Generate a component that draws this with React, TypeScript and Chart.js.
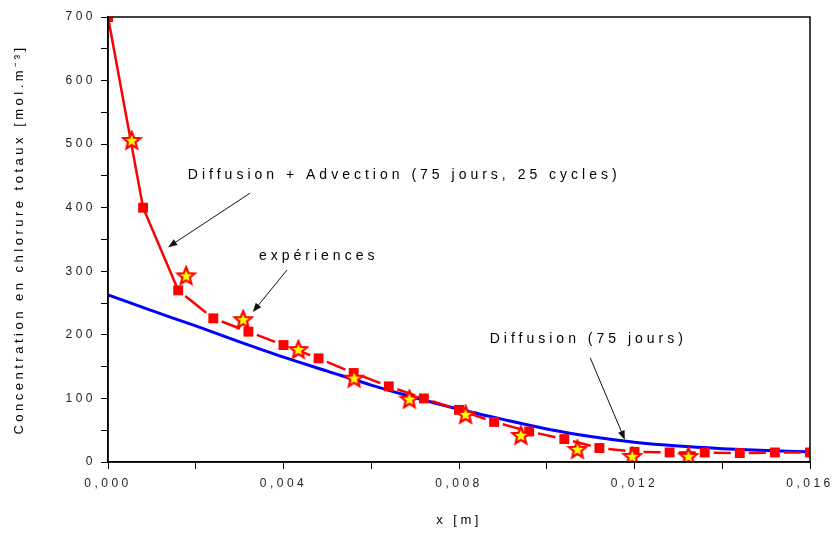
import React, { useEffect, useRef } from 'react';
import { Chart, registerables } from 'chart.js';

Chart.register(...registerables);

// ---- data ----
const modelX = [0, 0.0008, 0.0016, 0.0024, 0.0032, 0.004, 0.0048, 0.0056, 0.0064, 0.0072, 0.008, 0.0088, 0.0096, 0.0104, 0.0112, 0.012, 0.0128, 0.0136, 0.0144, 0.0152, 0.016];
const modelY = [700, 400, 270, 226, 205, 184, 163, 140, 119, 100, 82, 63, 48, 36, 22, 16, 15, 15, 14, 15, 15];

const expX = [0.00054, 0.00178, 0.00308, 0.00434, 0.00561, 0.00687, 0.00815, 0.00941, 0.0107, 0.01195, 0.01323];
const expY = [505, 292, 223, 176, 131, 98, 74, 41, 19, 8, 8];

const diffX = [0, 0.001, 0.002, 0.003, 0.004, 0.005, 0.006, 0.007, 0.008, 0.009, 0.01, 0.011, 0.012, 0.013, 0.014, 0.015, 0.016];
const diffY = [263, 238, 214, 189, 165, 143, 121, 101, 83, 67, 52, 40, 31, 25, 21, 18, 16];

const xTicksMajor = [0, 0.004, 0.008, 0.012, 0.016];
const yTicksMajor = [0, 100, 200, 300, 400, 500, 600, 700];

const xTitle = 'x [m]';
const yTitle = 'Concentration en chlorure totaux [mol.m⁻³]';

const labelTexts = ['Diffusion + Advection (75 jours, 25 cycles)', 'expériences', 'Diffusion (75 jours)'];
// annotation placement (data coordinates)
const labelAnchors = [
  { x: 0.00182, y: 451 },
  { x: 0.00344, y: 324 },
  { x: 0.0087, y: 194 },
];
const arrowFrom = [
  { x: 0.00324, y: 423 },
  { x: 0.00408, y: 302 },
  { x: 0.01099, y: 164 },
];
const arrowTo = [
  { x: 0.00137, y: 338 },
  { x: 0.0033, y: 236 },
  { x: 0.01178, y: 35 },
];

const FONT = '"Liberation Sans", Arial, sans-serif';

function makeStar(): HTMLCanvasElement {
  const c = document.createElement('canvas');
  const s = 22;
  c.width = s;
  c.height = s;
  const g = c.getContext('2d')!;
  g.translate(s / 2, s / 2);
  g.beginPath();
  for (let i = 0; i < 10; i++) {
    const r = i % 2 === 0 ? 9 : 4;
    const a = -Math.PI / 2 + (i * Math.PI) / 5;
    g.lineTo(r * Math.cos(a), r * Math.sin(a));
  }
  g.closePath();
  g.fillStyle = '#ffff00';
  g.fill();
  g.lineWidth = 2.2;
  g.strokeStyle = '#ff0000';
  g.stroke();
  return c;
}

const GAP = 9;

export default function App() {
  const ref = useRef<HTMLCanvasElement | null>(null);

  useEffect(() => {
    const canvas = ref.current;
    if (!canvas) return;
    const star = makeStar();

    const spacingPlugin = {
      id: 'spacing',
      beforeLayout(chart: any) {
        chart.ctx.letterSpacing = '3.5px';
      },
      beforeDraw(chart: any) {
        chart.ctx.letterSpacing = '3.5px';
      },
    };

    const framePlugin = {
      id: 'frame',
      afterDraw(chart: any) {
        const { ctx, chartArea } = chart;
        const xs = chart.scales.x;
        const ys = chart.scales.y;
        ctx.save();
        ctx.strokeStyle = '#000';
        ctx.lineWidth = 1.5;
        ctx.strokeRect(chartArea.left, chartArea.top, chartArea.right - chartArea.left, chartArea.bottom - chartArea.top);

        ctx.font = '14px ' + FONT;
        ctx.letterSpacing = '4px';
        ctx.fillStyle = '#000';
        ctx.textAlign = 'left';
        ctx.textBaseline = 'middle';
        labelTexts.forEach((t, i) => {
          ctx.fillText(t, xs.getPixelForValue(labelAnchors[i].x), ys.getPixelForValue(labelAnchors[i].y));
        });

        ctx.strokeStyle = '#111';
        ctx.fillStyle = '#111';
        ctx.lineWidth = 1;
        arrowFrom.forEach((f, i) => {
          const x0 = xs.getPixelForValue(f.x);
          const y0 = ys.getPixelForValue(f.y);
          const x1 = xs.getPixelForValue(arrowTo[i].x);
          const y1 = ys.getPixelForValue(arrowTo[i].y);
          const ang = Math.atan2(y1 - y0, x1 - x0);
          const hl = 9;
          const hw = 3.5;
          ctx.beginPath();
          ctx.moveTo(x0, y0);
          ctx.lineTo(x1 - Math.cos(ang) * hl * 0.8, y1 - Math.sin(ang) * hl * 0.8);
          ctx.stroke();
          ctx.beginPath();
          ctx.moveTo(x1, y1);
          ctx.lineTo(x1 - Math.cos(ang) * hl - Math.sin(ang) * hw, y1 - Math.sin(ang) * hl + Math.cos(ang) * hw);
          ctx.lineTo(x1 - Math.cos(ang) * hl + Math.sin(ang) * hw, y1 - Math.sin(ang) * hl - Math.cos(ang) * hw);
          ctx.closePath();
          ctx.fill();
        });
        ctx.restore();
      },
    };

    const chart = new Chart(canvas, {
      type: 'line',
      data: {
        datasets: [
          {
            label: 'expériences',
            data: expX.map((x, i) => ({ x, y: expY[i] })),
            showLine: false,
            pointStyle: star as any,
            pointRadius: 9,
            order: 0,
          },
          {
            label: 'Diffusion + Advection (75 jours, 25 cycles)',
            data: modelX.map((x, i) => ({ x, y: modelY[i] })),
            borderColor: '#ff0000',
            backgroundColor: '#ff0000',
            pointBackgroundColor: '#ff0000',
            pointBorderWidth: 0,
            borderWidth: 2.5,
            pointStyle: 'rect',
            pointRadius: 7,
            tension: 0,
            clip: 0,
            segment: {
              borderDash: (c: any) => {
                if (c.p0DataIndex < 2) return [];
                const len = Math.hypot(c.p1.x - c.p0.x, c.p1.y - c.p0.y);
                return [Math.max(len - 2 * GAP, 1), 2 * GAP];
              },
              borderDashOffset: (c: any) => (c.p0DataIndex < 2 ? 0 : -GAP),
            },
            order: 1,
          } as any,
          {
            label: 'Diffusion (75 jours)',
            data: diffX.map((x, i) => ({ x, y: diffY[i] })),
            borderColor: '#0000ff',
            backgroundColor: '#0000ff',
            borderWidth: 3,
            pointRadius: 0,
            cubicInterpolationMode: 'monotone',
            clip: 0,
            order: 2,
          },
        ],
      },
      options: {
        animation: false,
        responsive: false,
        devicePixelRatio: 1,
        layout: { padding: { left: 0, top: 17, right: 24, bottom: 0 } },
        plugins: {
          legend: { display: false },
          tooltip: { enabled: false },
        },
        scales: {
          x: {
            type: 'linear',
            min: 0,
            max: 0.016,
            afterFit: (s: any) => {
              s.height = 74;
              s.paddingLeft = 0;
              s.paddingRight = 0;
            },
            ticks: {
              stepSize: 0.002,
              autoSkip: false,
              maxRotation: 0,
              padding: 7,
              color: '#222',
              font: { size: 12, family: FONT },
              callback: (v: any) => {
                const val = Number(v);
                const hit = xTicksMajor.find((m) => Math.abs(m - val) < 1e-7);
                return hit === undefined ? '' : hit.toFixed(3).replace('.', ',');
              },
            },
            grid: { drawOnChartArea: false, drawTicks: true, tickLength: 7, color: '#000', tickWidth: 1 },
            border: { display: true, color: '#000', width: 1.5 },
            title: {
              display: true,
              text: xTitle,
              color: '#000',
              font: { size: 13, family: FONT },
              padding: { top: 0, bottom: 8 },
            },
          },
          y: {
            type: 'linear',
            min: 0,
            max: 700,
            afterFit: (s: any) => {
              s.width = 108;
              s.paddingTop = 0;
              s.paddingBottom = 0;
            },
            ticks: {
              stepSize: 50,
              autoSkip: false,
              padding: 5,
              color: '#222',
              font: { size: 12, family: FONT },
              callback: (v: any) => {
                const val = Number(v);
                return yTicksMajor.includes(val) ? String(val) : '';
              },
            },
            grid: { drawOnChartArea: false, drawTicks: true, tickLength: 7, color: '#000', tickWidth: 1 },
            border: { display: true, color: '#000', width: 1.5 },
            title: {
              display: true,
              text: yTitle,
              color: '#000',
              font: { size: 13, family: FONT },
              padding: { top: 12, bottom: 0 },
            },
          },
        },
      },
      plugins: [spacingPlugin, framePlugin],
    });

    return () => chart.destroy();
  }, []);

  return (
    <div style={{ position: 'absolute', left: 0, top: 0, width: 834, height: 536, background: '#fff' }}>
      <canvas ref={ref} width={834} height={536} style={{ display: 'block', width: 834, height: 536 }} />
    </div>
  );
}
